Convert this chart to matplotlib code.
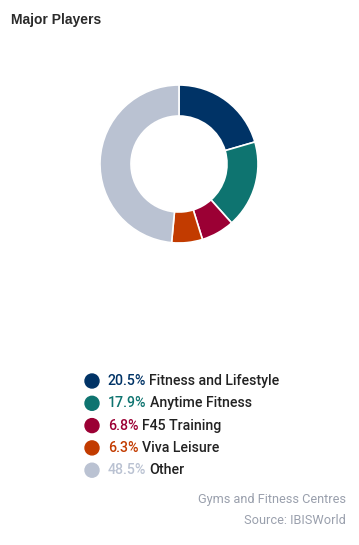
import matplotlib
matplotlib.use("Agg")
import matplotlib.pyplot as plt
from matplotlib.patches import Circle

companies = ["Fitness and Lifestyle", "Anytime Fitness", "F45 Training", "Viva Leisure", "Other"]
shares = [20.5, 17.9, 6.8, 6.3, 48.5]
colors = ["#003366", "#0E7470", "#9B0034", "#C23B00", "#BAC2D2"]
title = "Major Players"
footer1 = "Gyms and Fitness Centres"
footer2 = "Source: IBISWorld"

W, H = 359, 545
fig = plt.figure(figsize=(W / 100, H / 100), dpi=100)
fig.patch.set_facecolor("white")

# donut
cx, cy, r = 179, 164, 79
ax = fig.add_axes([(cx - r) / W, 1 - (cy + r) / H, 2 * r / W, 2 * r / H])
ax.pie(shares, colors=colors, startangle=90, counterclock=False, radius=1.0,
       wedgeprops=dict(width=31 / 79, edgecolor="white", linewidth=1.2))
ax.set_xlim(-1, 1)
ax.set_ylim(-1, 1)
ax.set_aspect("equal")
ax.axis("off")

fig.text(11 / W, 1 - 20 / H, title, fontsize=10, fontweight="bold",
         family="Liberation Sans", color="#2b2b2b", va="center", ha="left")

# legend
lax = fig.add_axes([0, 0, 1, 1])
lax.set_xlim(0, W)
lax.set_ylim(H, 0)
lax.axis("off")
y0, dy = 381, 22.3
fs = 10.2
for i, (name, val, col) in enumerate(zip(companies, shares, colors)):
    y = y0 + i * dy
    lax.add_patch(Circle((92, y), 7, color=col))
    t = lax.text(108, y, f"{val:.1f}%", fontsize=fs, family="Roboto",
                 fontweight="medium", color=col, va="center", ha="left")
    fig.canvas.draw()
    bb = t.get_window_extent()
    x2 = bb.x1 + 3
    lax.text(x2, y, name, fontsize=fs, family="Roboto", fontweight="medium",
             color="#222222", va="center", ha="left")

fig.text(346 / W, 1 - 500 / H, footer1, fontsize=9.2, family="Roboto",
         color="#9aa0ad", ha="right", va="center")
fig.text(346 / W, 1 - 521 / H, footer2, fontsize=9.2, family="Roboto",
         color="#9aa0ad", ha="right", va="center")

fig.savefig("out.png", dpi=100, facecolor="white")
